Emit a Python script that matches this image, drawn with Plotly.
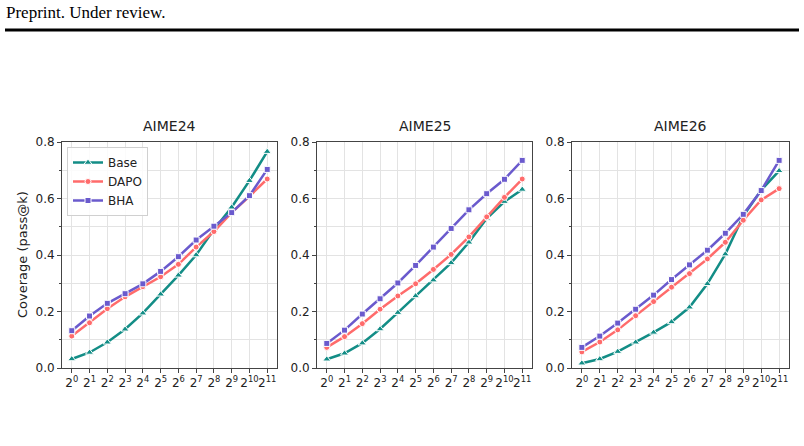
import plotly.graph_objects as go

exponents = list(range(12))
tick_labels = [f"2<sup>{e}</sup>" for e in exponents]
datasets = ["AIME24", "AIME25", "AIME26"]
methods = ["Base", "DAPO", "BHA"]

aime24_base = [0.032, 0.055, 0.091, 0.137, 0.194, 0.261, 0.328, 0.400, 0.490, 0.569, 0.663, 0.766]
aime24_dapo = [0.113, 0.160, 0.210, 0.252, 0.288, 0.323, 0.367, 0.428, 0.483, 0.550, 0.608, 0.669]
aime24_bha = [0.132, 0.184, 0.229, 0.263, 0.298, 0.342, 0.394, 0.453, 0.502, 0.550, 0.610, 0.703]

aime25_base = [0.031, 0.052, 0.088, 0.138, 0.196, 0.255, 0.311, 0.372, 0.445, 0.529, 0.589, 0.632]
aime25_dapo = [0.073, 0.111, 0.157, 0.208, 0.255, 0.298, 0.349, 0.402, 0.464, 0.535, 0.604, 0.669]
aime25_bha = [0.087, 0.134, 0.191, 0.245, 0.301, 0.363, 0.428, 0.494, 0.560, 0.617, 0.668, 0.735]

aime26_base = [0.017, 0.032, 0.058, 0.091, 0.126, 0.163, 0.215, 0.298, 0.403, 0.538, 0.630, 0.698]
aime26_dapo = [0.057, 0.092, 0.135, 0.185, 0.235, 0.286, 0.334, 0.386, 0.445, 0.523, 0.595, 0.635]
aime26_bha = [0.073, 0.113, 0.159, 0.208, 0.258, 0.313, 0.365, 0.417, 0.477, 0.544, 0.628, 0.735]

values = {
    "AIME24": [aime24_base, aime24_dapo, aime24_bha],
    "AIME25": [aime25_base, aime25_dapo, aime25_bha],
    "AIME26": [aime26_base, aime26_dapo, aime26_bha],
}

colors = {"Base": "#138D86", "DAPO": "#FF6B6B", "BHA": "#6A5ACD"}
symbols = {"Base": "triangle-up", "DAPO": "circle", "BHA": "square"}
msizes = {"Base": 7, "DAPO": 6, "BHA": 6}

W, H = 804, 446
x_domains_px = [(62, 277), (317, 532), (572, 789)]
y_dom = ((H - 368) / H, (H - 142) / H)

fig = go.Figure()
axis_font = dict(family="DejaVu Sans", size=12, color="#222")
for i, ds in enumerate(datasets):
    xa = "x" if i == 0 else f"x{i+1}"
    ya = "y" if i == 0 else f"y{i+1}"
    for j, m in enumerate(methods):
        fig.add_trace(go.Scatter(
            x=exponents, y=values[ds][j], mode="lines+markers", name=m,
            xaxis=xa, yaxis=ya, showlegend=(i == 0),
            line=dict(color=colors[m], width=2.5),
            marker=dict(symbol=symbols[m], size=msizes[m], color=colors[m],
                        line=dict(color="white", width=1)),
        ))
    d0, d1 = x_domains_px[i]
    xkey = "xaxis" if i == 0 else f"xaxis{i+1}"
    ykey = "yaxis" if i == 0 else f"yaxis{i+1}"
    fig.layout[xkey] = dict(
        domain=[d0 / W, d1 / W], anchor=ya, range=[-0.55, 11.55],
        tickmode="array", tickvals=exponents, ticktext=tick_labels,
        tickangle=0, automargin=False,
        showgrid=True, gridcolor="#e3e3e3", gridwidth=1,
        showline=True, linecolor="#444", linewidth=1, mirror=True,
        ticks="outside", ticklen=4, tickcolor="#444", tickfont=axis_font,
        zeroline=False,
    )
    fig.layout[ykey] = dict(
        domain=list(y_dom), anchor=xa, range=[0, 0.8], automargin=False,
        tickmode="array", tickvals=[0, 0.2, 0.4, 0.6, 0.8],
        ticktext=["0.0", "0.2", "0.4", "0.6", "0.8"],
        showgrid=True, gridcolor="#e3e3e3", gridwidth=1,
        minor=dict(dtick=0.1, showgrid=True, gridcolor="#e3e3e3", ticks="outside",
                   ticklen=2, tickcolor="#444"),
        showline=True, linecolor="#444", linewidth=1, mirror=True,
        ticks="outside", ticklen=4, tickcolor="#444", tickfont=axis_font,
        zeroline=False,
    )
    fig.add_annotation(text=ds, x=(d0 + d1) / 2 / W, y=(H - 136) / H,
                       xref="paper", yref="paper", xanchor="center", yanchor="bottom",
                       showarrow=False, font=dict(family="DejaVu Sans", size=14, color="#222"))

fig.add_annotation(text="Coverage (pass@k)", x=22 / W, y=(H - 255) / H, xref="paper", yref="paper",
                   textangle=-90, showarrow=False, xanchor="center", yanchor="middle",
                   font=dict(family="DejaVu Sans", size=13, color="#222"))

fig.add_annotation(text="Preprint. Under review.", x=4 / W, y=1 - 1 / H, xref="paper", yref="paper",
                   xanchor="left", yanchor="top", showarrow=False,
                   font=dict(family="Liberation Serif", size=17, color="#000"))
fig.add_shape(type="line", xref="paper", yref="paper", x0=5 / W, x1=799 / W,
              y0=(H - 30) / H, y1=(H - 30) / H, line=dict(color="black", width=3))

fig.update_layout(
    width=W, height=H, margin=dict(l=0, r=0, t=0, b=0, autoexpand=False),
    paper_bgcolor="white", plot_bgcolor="white",
    legend=dict(x=67 / W, y=(H - 147) / H, xanchor="left", yanchor="top",
                bgcolor="rgba(255,255,255,0.85)", bordercolor="#d0d0d0", borderwidth=1,
                font=dict(family="DejaVu Sans", size=12, color="#222"),
                itemwidth=30, tracegroupgap=0),
)

fig.write_html("out.html")
